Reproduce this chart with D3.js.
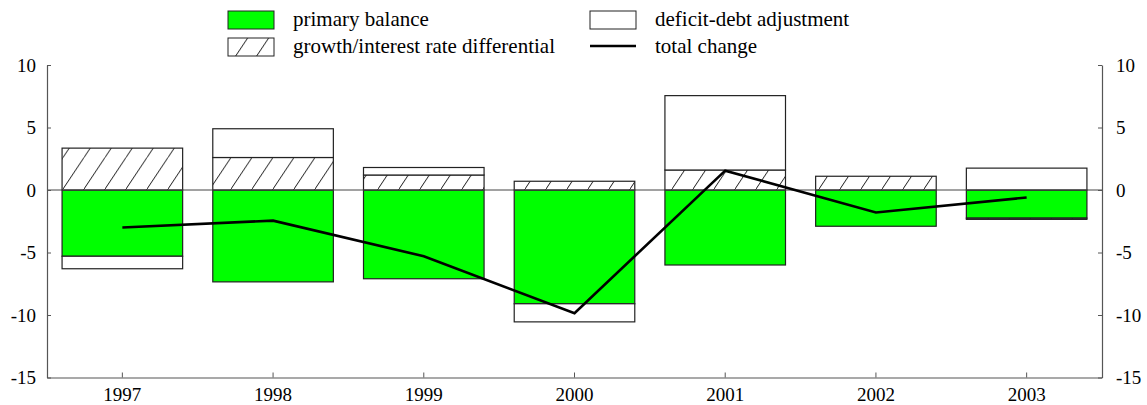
<!DOCTYPE html>
<html>
<head>
<meta charset="utf-8">
<script src="https://cdn.jsdelivr.net/npm/d3@7"></script>
<style>
  body { margin: 0; background: #fff; }
  svg { display: block; }
  text { font-family: "Liberation Serif", "Times New Roman", serif; fill: #000; }
</style>
</head>
<body>
<svg id="chart" width="1147" height="405"></svg>
<script>
// ---- data ----
const years = ["1997", "1998", "1999", "2000", "2001", "2002", "2003"];
const primaryBalance = [-5.3, -7.35, -7.1, -9.1, -6.0, -2.9, -2.25];
const growthDifferential = [3.35, 2.6, 1.2, 0.7, 1.6, 1.1, -0.1];
const deficitDebtAdjustment = [-1.0, 2.3, 0.6, -1.45, 5.95, 0.0, 1.75];
const totalChange = [-3.0, -2.45, -5.3, -9.85, 1.55, -1.8, -0.6];
const yTicks = [-15, -10, -5, 0, 5, 10];
const seriesKeys = ["primary", "growth", "dda"];
const seriesLabels = ["primary balance", "growth/interest rate differential", "deficit-debt adjustment", "total change"];

const rows = years.map((y, i) => ({
  year: y,
  primary: primaryBalance[i],
  growth: growthDifferential[i],
  dda: deficitDebtAdjustment[i]
}));

// ---- layout ----
const svg = d3.select("#chart");
const mLeft = 47, mRight = 1102, mTop = 65, mBottom = 377.5;
const fontSize = 19;
const legendFontSize = 21;
const serif = '"Liberation Serif", "Times New Roman", serif';

const x = d3.scaleBand().domain(years).range([mLeft, mRight]).paddingInner(0.2).paddingOuter(0.1);
const y = d3.scaleLinear().domain([-15, 10]).range([mBottom, mTop]);

// hatch pattern
const defs = svg.append("defs");
const pat = defs.append("pattern")
  .attr("id", "hatch").attr("patternUnits", "userSpaceOnUse")
  .attr("width", 21).attr("height", 31.5);
pat.append("rect").attr("width", 21).attr("height", 31.5).attr("fill", "#fff");
pat.append("line").attr("x1", 0).attr("y1", 31.5).attr("x2", 21).attr("y2", 0)
  .attr("stroke", "#000").attr("stroke-width", 0.9);

const fills = { primary: "#00ff00", growth: "url(#hatch)", dda: "#ffffff" };

const stack = d3.stack().keys(seriesKeys).offset(d3.stackOffsetDiverging);
const stacked = stack(rows);

// bars
const gBars = svg.append("g");
stacked.forEach(layer => {
  gBars.append("g").selectAll("rect")
    .data(layer)
    .join("rect")
    .attr("x", d => x(d.data.year))
    .attr("width", x.bandwidth())
    .attr("y", d => y(Math.max(d[0], d[1])))
    .attr("height", d => Math.abs(y(d[0]) - y(d[1])))
    .attr("fill", fills[layer.key])
    .attr("stroke", "#222")
    .attr("stroke-width", 1.2);
});

// zero line
svg.append("line")
  .attr("x1", mLeft).attr("x2", mRight)
  .attr("y1", y(0)).attr("y2", y(0))
  .attr("stroke", "#444").attr("stroke-width", 1);

// total change line
const line = d3.line()
  .x((d, i) => x(years[i]) + x.bandwidth() / 2)
  .y(d => y(d));
svg.append("path")
  .datum(totalChange)
  .attr("d", line)
  .attr("fill", "none")
  .attr("stroke", "#000")
  .attr("stroke-width", 2.6);

// axes
function styleAxis(g) {
  g.attr("font-family", null);
  g.selectAll(".domain").attr("stroke", "#555").attr("stroke-width", 1.2);
  g.selectAll(".tick line").attr("stroke", "#555");
  g.selectAll(".tick text")
    .style("font-family", serif)
    .style("font-size", fontSize + "px")
    .attr("fill", "#000");
}
const fmt = d => String(d);

const leftAxis = d3.axisLeft(y).tickValues(yTicks).tickFormat(fmt).tickSizeInner(-4).tickSizeOuter(0).tickPadding(11);
svg.append("g").attr("transform", `translate(${mLeft},0)`).call(leftAxis).call(styleAxis);

const rightAxis = d3.axisRight(y).tickValues(yTicks).tickFormat(fmt).tickSizeInner(-4).tickSizeOuter(0).tickPadding(14);
svg.append("g").attr("transform", `translate(${mRight},0)`).call(rightAxis).call(styleAxis);

const bottomAxis = d3.axisBottom(x).tickSizeInner(-5).tickSizeOuter(0).tickPadding(10);
svg.append("g").attr("transform", `translate(0,${mBottom})`).call(bottomAxis).call(styleAxis);

// legend
const legend = svg.append("g");
const legendItems = [
  { label: seriesLabels[0], type: "rect", fill: fills.primary, x: 228, y: 11 },
  { label: seriesLabels[1], type: "rect", fill: fills.growth, x: 228, y: 38 },
  { label: seriesLabels[2], type: "rect", fill: fills.dda, x: 590, y: 11 },
  { label: seriesLabels[3], type: "line", x: 590, y: 38 }
];
legendItems.forEach(it => {
  if (it.type === "rect") {
    legend.append("rect").attr("x", it.x).attr("y", it.y).attr("width", 46).attr("height", 18)
      .attr("fill", it.fill).attr("stroke", "#222").attr("stroke-width", 1);
  } else {
    legend.append("line").attr("x1", it.x).attr("x2", it.x + 46)
      .attr("y1", it.y + 8).attr("y2", it.y + 8)
      .attr("stroke", "#000").attr("stroke-width", 2.6);
  }
  legend.append("text").attr("x", it.x + 65).attr("y", it.y + 15)
    .style("font-family", serif)
    .style("font-size", legendFontSize + "px").text(it.label);
});
</script>
</body>
</html>
